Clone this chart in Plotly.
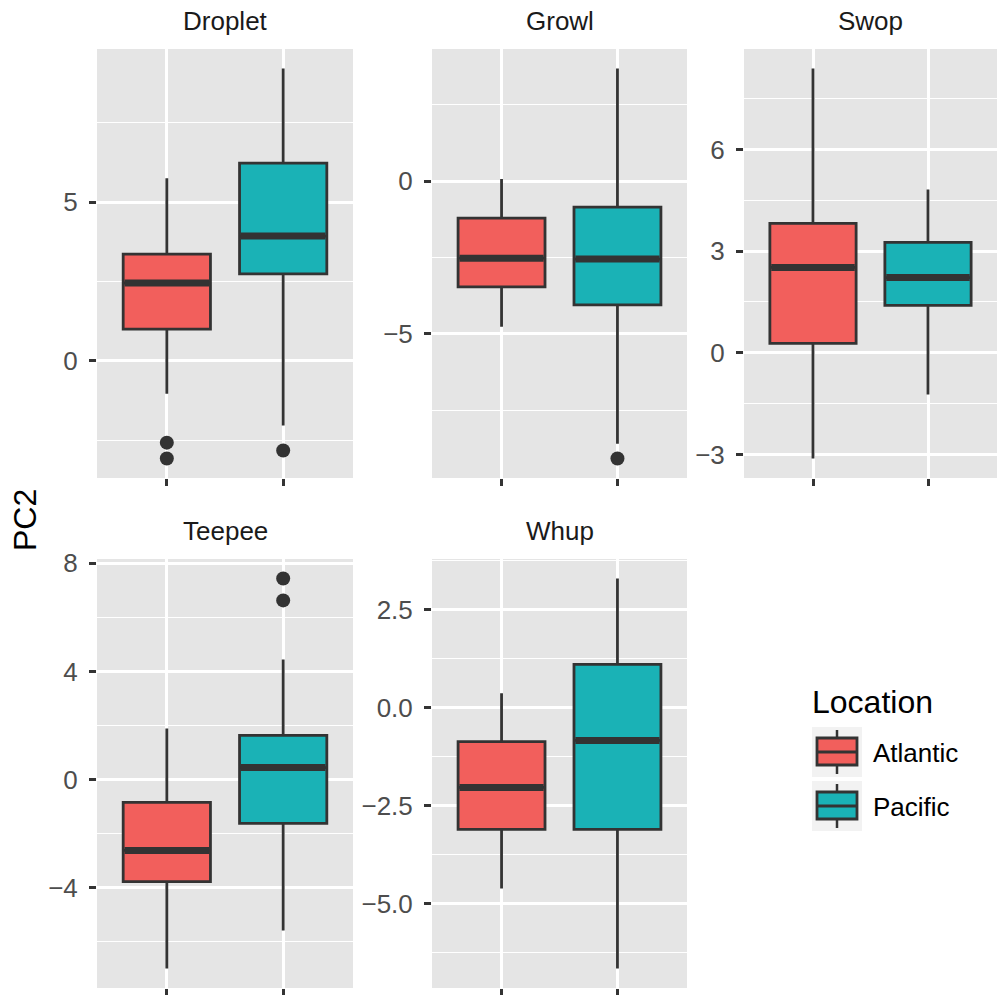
import plotly.graph_objects as go

# ---------------- data ----------------
facets = ["Droplet", "Growl", "Swop", "Teepee", "Whup"]
locations = ["Atlantic", "Pacific"]
y_title = "PC2"
legend_title = "Location"

atl_lower = [-1.04, -4.77, -3.12, -7.00, -4.62]
atl_q1 = [1.00, -3.46, 0.28, -3.78, -3.11]
atl_median = [2.45, -2.52, 2.52, -2.63, -2.04]
atl_q3 = [3.36, -1.21, 3.82, -0.85, -0.87]
atl_upper = [5.75, 0.07, 8.39, 1.89, 0.36]
atl_outliers = [[-2.58, -3.08], [], [], [], []]

pac_lower = [-2.04, -8.60, -1.23, -5.59, -6.66]
pac_q1 = [2.74, -4.05, 1.40, -1.63, -3.11]
pac_median = [3.93, -2.55, 2.22, 0.44, -0.84]
pac_q3 = [6.23, -0.85, 3.26, 1.63, 1.10]
pac_upper = [9.21, 3.69, 4.82, 4.44, 3.29]
pac_outliers = [[-2.83], [-9.08], [], [7.44, 6.63], []]

major_ticks = [[0, 5], [-5, 0], [-3, 0, 3, 6], [-4, 0, 4, 8], [-5.0, -2.5, 0.0, 2.5]]
minor_ticks = [[-2.5, 2.5, 7.5], [-7.5, -2.5, 2.5], [-1.5, 1.5, 4.5, 7.5],
               [-6, -2, 2, 6], [-6.25, -3.75, -1.25, 1.25, 3.75]]
tick_text = [["0", "5"], ["\u22125", "0"], ["\u22123", "0", "3", "6"],
             ["\u22124", "0", "4", "8"], ["\u22125.0", "\u22122.5", "0.0", "2.5"]]

# ---------------- styles / layout ----------------
W, H = 1001, 995
fills = ["#F25F5C", "#1AB2B6"]
dark = "#333333"
BOX_W = 0.75
FONT = "Liberation Sans, Arial, Helvetica, sans-serif"

# panel pixel boxes (left, right, top, bottom) in target-image pixels
col_x = [(97, 353), (432, 687), (744, 997)]
row_y = [(49, 478), (559, 988)]
panel_pos = [(0, 0), (0, 1), (0, 2), (1, 0), (1, 1)]

# vertical calibration of the capture (content lands ~10px lower, ~1% squeezed)
Y_OFF, Y_SPAN = 10, 985


def px(x):
    return x / W


def py(y):
    return 1 - (y - Y_OFF) / Y_SPAN


stats = [
    (atl_lower, atl_q1, atl_median, atl_q3, atl_upper, atl_outliers),
    (pac_lower, pac_q1, pac_median, pac_q3, pac_upper, pac_outliers),
]

fig = go.Figure()
layout = {}
annotations = []

for i, name in enumerate(facets):
    r, c = panel_pos[i]
    xl, xr = col_x[c]
    yt, yb = row_y[r]
    xa = "x" if i == 0 else f"x{i+1}"
    ya = "y" if i == 0 else f"y{i+1}"
    xkey = "xaxis" if i == 0 else f"xaxis{i+1}"
    ykey = "yaxis" if i == 0 else f"yaxis{i+1}"

    vals = []
    for j, (lo, q1, md, q3, up, outl) in enumerate(stats):
        xc = j + 1
        fig.add_trace(go.Box(
            x=[xc], q1=[q1[i]], median=[md[i]], q3=[q3[i]],
            lowerfence=[lo[i]], upperfence=[up[i]],
            width=BOX_W, whiskerwidth=0, boxpoints=False,
            fillcolor=fills[j], line=dict(color=dark, width=2.8),
            name=locations[j], showlegend=False, hoverinfo="skip",
            xaxis=xa, yaxis=ya,
        ))
        # thick median bar (ggplot fatten)
        fig.add_trace(go.Scatter(
            x=[xc - BOX_W / 2 + 0.012, xc + BOX_W / 2 - 0.012], y=[md[i], md[i]],
            mode="lines", line=dict(color=dark, width=7),
            showlegend=False, hoverinfo="skip", xaxis=xa, yaxis=ya,
        ))
        if outl[i]:
            fig.add_trace(go.Scatter(
                x=[xc] * len(outl[i]), y=outl[i], mode="markers",
                marker=dict(color=dark, size=14, line=dict(width=0)),
                showlegend=False, hoverinfo="skip", xaxis=xa, yaxis=ya,
            ))
        vals += [lo[i], up[i]] + outl[i]

    vmin, vmax = min(vals), max(vals)
    pad = 0.05 * (vmax - vmin)

    layout[xkey] = dict(
        domain=[px(xl), px(xr)], anchor=ya, range=[0.4, 2.6],
        tickmode="array", tickvals=[1, 2], showticklabels=False,
        ticks="outside", ticklen=7, tickwidth=2.5, tickcolor=dark,
        showgrid=True, gridcolor="white", gridwidth=2.6,
        zeroline=False, showline=False, fixedrange=True,
    )
    layout[ykey] = dict(
        domain=[py(yb), py(yt)], anchor=xa, range=[vmin - pad, vmax + pad],
        tickmode="array", tickvals=major_ticks[i], ticktext=tick_text[i],
        ticks="outside", ticklen=7, tickwidth=2.5, tickcolor=dark,
        tickfont=dict(size=26, color="#4D4D4D", family=FONT),
        ticklabelstandoff=6,
        showgrid=True, gridcolor="white", gridwidth=2.6,
        minor=dict(tickmode="array", tickvals=minor_ticks[i], showgrid=True,
                   gridcolor="white", gridwidth=1.3, ticks=""),
        zeroline=False, showline=False, fixedrange=True,
    )
    annotations.append(dict(
        text=name, x=px((xl + xr) / 2), y=py(yt - 28), xref="paper", yref="paper",
        showarrow=False, xanchor="center", yanchor="middle",
        font=dict(size=26, color="#1A1A1A", family=FONT),
    ))

# y-axis title
annotations.append(dict(
    text=y_title, x=px(25), y=py(520), xref="paper", yref="paper", textangle=-90,
    showarrow=False, xanchor="center", yanchor="middle",
    font=dict(size=32, color="black", family=FONT),
))

# ---------------- custom ggplot-like legend ----------------
shapes = []
annotations.append(dict(
    text=legend_title, x=px(810), y=py(702), xref="paper", yref="paper",
    showarrow=False, xanchor="left", yanchor="middle",
    font=dict(size=32, color="black", family=FONT),
))
key_tops = [727, 781]
for j, loc in enumerate(locations):
    t = key_tops[j]
    shapes.append(dict(type="rect", xref="paper", yref="paper",
                       x0=px(812), x1=px(862), y0=py(t + 50), y1=py(t),
                       fillcolor="#F2F2F2", line=dict(width=0), layer="above"))
    shapes.append(dict(type="line", xref="paper", yref="paper",
                       x0=px(837), x1=px(837), y0=py(t + 3), y1=py(t + 47),
                       line=dict(color=dark, width=2.5), layer="above"))
    shapes.append(dict(type="rect", xref="paper", yref="paper",
                       x0=px(817), x1=px(857), y0=py(t + 38), y1=py(t + 11),
                       fillcolor=fills[j], line=dict(color=dark, width=2.8), layer="above"))
    shapes.append(dict(type="line", xref="paper", yref="paper",
                       x0=px(817), x1=px(857), y0=py(t + 25), y1=py(t + 25),
                       line=dict(color=dark, width=3), layer="above"))
    annotations.append(dict(
        text=loc, x=px(871), y=py(t + 26), xref="paper", yref="paper",
        showarrow=False, xanchor="left", yanchor="middle",
        font=dict(size=26, color="black", family=FONT),
    ))

fig.update_layout(
    width=W, height=H, margin=dict(l=0, r=0, t=0, b=0),
    paper_bgcolor="white", plot_bgcolor="#E5E5E5",
    showlegend=False, annotations=annotations, shapes=shapes,
    font=dict(family=FONT),
    **layout,
)

fig.write_html(
    "out.html",
    config={"displayModeBar": False},
    post_script=(
        "document.documentElement.style.margin='0';"
        "document.documentElement.style.overflow='hidden';"
        "document.body.style.margin='0';document.body.style.overflow='hidden';"
        "var d=document.getElementById('{plot_id}');"
        "d.style.position='fixed';d.style.top='0px';d.style.left='0px';"
    ),
)
